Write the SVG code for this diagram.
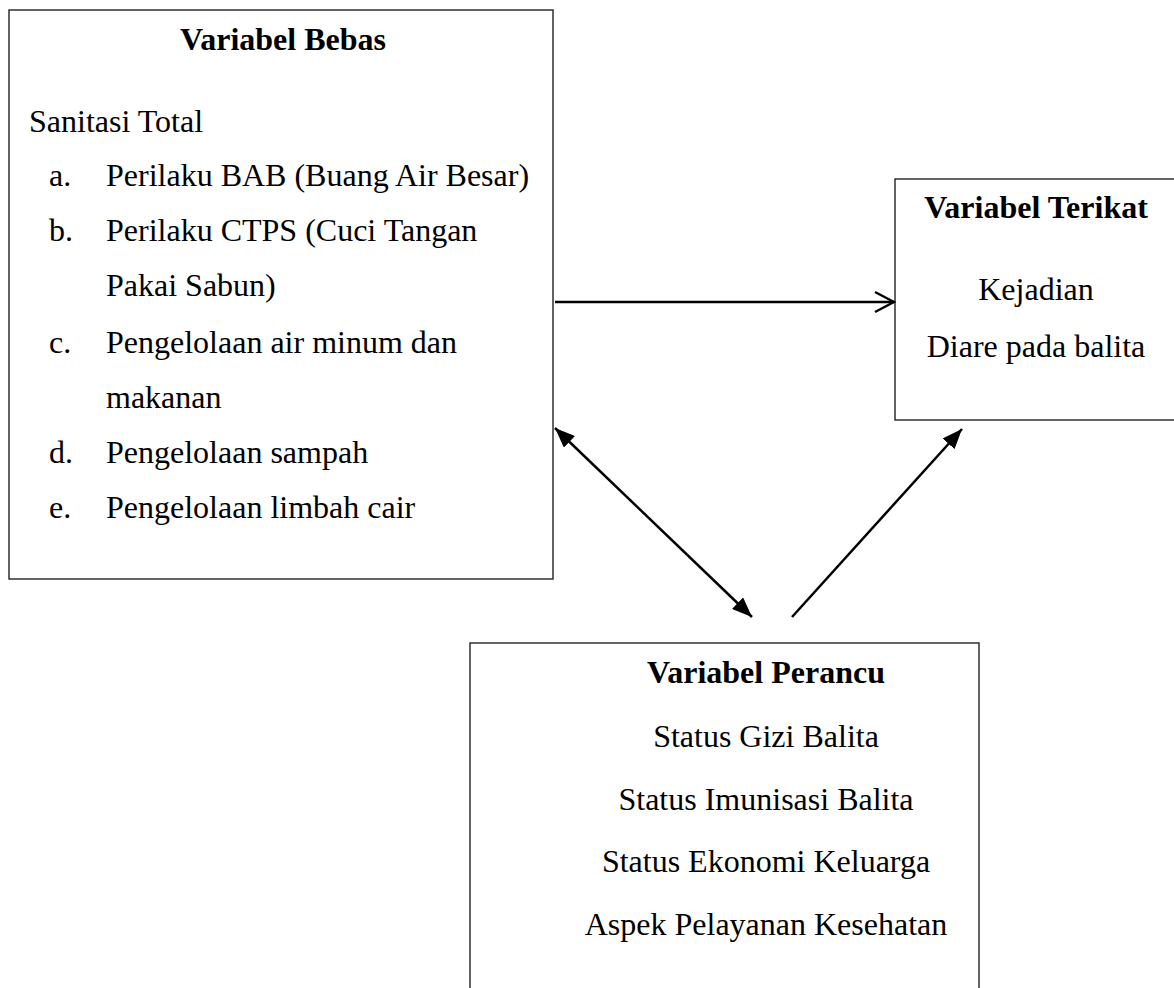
<svg xmlns="http://www.w3.org/2000/svg" width="1174" height="988" viewBox="0 0 1174 988">
<style>
.box{fill:#fff;stroke:#222;stroke-width:1.4}
.t{font-family:"Liberation Serif","Times New Roman",serif;font-size:32px;fill:#000}
.b{font-weight:bold}
.m{text-anchor:middle}
.c{stroke:#000;stroke-width:2.5;fill:none}
</style>
<defs>
<marker id="open" markerUnits="userSpaceOnUse" markerWidth="22" markerHeight="24" viewBox="0 0 22 24" refX="20" refY="12" orient="auto">
<path d="M1,2 L20,12 L1,22" fill="none" stroke="#000" stroke-width="2.5"/>
</marker>
<marker id="fill" markerUnits="userSpaceOnUse" markerWidth="20" markerHeight="16" viewBox="0 0 20 16" refX="20" refY="8" orient="auto-start-reverse">
<path d="M0,0 L20,8 L0,16 Z" fill="#000"/>
</marker>
</defs>
<rect width="1174" height="988" fill="#fff"/>
<g id="bebas">
<rect class="box" x="9" y="10" width="544" height="569"/>
<text class="t b m" x="283" y="50">Variabel Bebas</text>
<text class="t" x="29" y="132">Sanitasi Total</text>
<text class="t" x="49" y="186">a.</text><text class="t" x="106" y="186">Perilaku BAB (Buang Air Besar)</text>
<text class="t" x="49" y="241">b.</text><text class="t" x="106" y="241">Perilaku CTPS (Cuci Tangan</text>
<text class="t" x="106" y="296">Pakai Sabun)</text>
<text class="t" x="49" y="353">c.</text><text class="t" x="106" y="353">Pengelolaan air minum dan</text>
<text class="t" x="106" y="408">makanan</text>
<text class="t" x="49" y="463">d.</text><text class="t" x="106" y="463">Pengelolaan sampah</text>
<text class="t" x="49" y="518">e.</text><text class="t" x="106" y="518">Pengelolaan limbah cair</text>
</g>
<g id="terikat">
<rect class="box" x="895" y="179" width="290" height="241"/>
<text class="t b m" x="1036" y="218">Variabel Terikat</text>
<text class="t m" x="1036" y="300">Kejadian</text>
<text class="t m" x="1036" y="357">Diare pada balita</text>
</g>
<g id="perancu">
<rect class="box" x="470" y="643" width="509" height="360"/>
<text class="t b m" x="766" y="683">Variabel Perancu</text>
<text class="t m" x="766" y="747">Status Gizi Balita</text>
<text class="t m" x="766" y="810">Status Imunisasi Balita</text>
<text class="t m" x="766" y="872">Status Ekonomi Keluarga</text>
<text class="t m" x="766" y="935">Aspek Pelayanan Kesehatan</text>
</g>
<g id="connectors">
<line class="c" x1="555" y1="302" x2="894" y2="302" marker-end="url(#open)"/>
<line class="c" x1="555" y1="428" x2="752" y2="617" marker-start="url(#fill)" marker-end="url(#fill)"/>
<line class="c" x1="792" y1="617" x2="962" y2="429" marker-end="url(#fill)"/>
</g>
</svg>
